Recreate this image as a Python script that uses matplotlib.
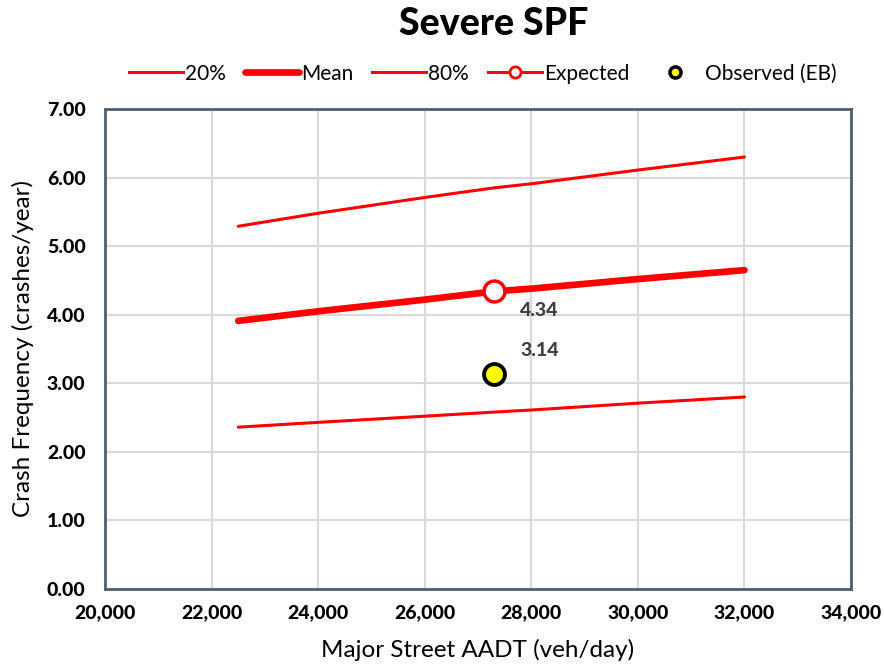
import matplotlib
matplotlib.use("Agg")
import matplotlib.pyplot as plt
from matplotlib.lines import Line2D
from matplotlib.ticker import FuncFormatter, MultipleLocator

plt.rcParams['font.family'] = ['Lato', 'DejaVu Sans']

aadt = [22500, 24000, 26000, 27300, 28000, 30000, 32000]
p20 = [2.36, 2.43, 2.52, 2.58, 2.61, 2.71, 2.80]
mean = [3.91, 4.05, 4.22, 4.34, 4.38, 4.52, 4.65]
p80 = [5.29, 5.48, 5.71, 5.85, 5.91, 6.11, 6.30]
exp_x = [27300]
exp_y = [4.34]
obs_x = [27300]
obs_y = [3.14]

fig = plt.figure(figsize=(8.84, 6.64), dpi=100)
ax = fig.add_axes([0.1188, 0.1130, 0.8439, 0.7228])

red = '#ff0000'
ax.plot(aadt, p20, color=red, lw=2.2, solid_capstyle='round', zorder=3)
ax.plot(aadt, mean, color=red, lw=4.8, solid_capstyle='round', zorder=3)
ax.plot(aadt, p80, color=red, lw=2.2, solid_capstyle='round', zorder=3)
ax.plot(exp_x, exp_y, 'o', ms=15, mfc='white', mec=red, mew=2.5, zorder=5)
ax.plot(obs_x, obs_y, 'o', ms=15, mfc='#ffff00', mec='black', mew=2.8, zorder=5)

ax.annotate(f"{exp_y[0]:.2f}", (exp_x[0], exp_y[0]), xytext=(19, -14),
            textcoords='offset points', ha='left', va='center',
            fontsize=14, fontweight='black', color='#404040')
ax.annotate(f"{obs_y[0]:.2f}", (obs_x[0], obs_y[0]), xytext=(19, 17),
            textcoords='offset points', ha='left', va='center',
            fontsize=14, fontweight='black', color='#404040')

ax.set_xlim(20000, 34000)
ax.set_ylim(0, 7)
ax.xaxis.set_major_locator(MultipleLocator(2000))
ax.yaxis.set_major_locator(MultipleLocator(1))
ax.xaxis.set_major_formatter(FuncFormatter(lambda v, p: f"{v:,.0f}"))
ax.yaxis.set_major_formatter(FuncFormatter(lambda v, p: f"{v:.2f}"))
ax.grid(True, color='#d9d9d9', lw=1.5, zorder=0)
ax.set_axisbelow(True)
ax.tick_params(axis='x', length=0, labelsize=14, pad=11)
ax.tick_params(axis='y', length=0, labelsize=14, pad=14)
for lab in ax.get_xticklabels() + ax.get_yticklabels():
    lab.set_fontweight('black')
for s in ax.spines.values():
    s.set_color('#4f5f6f')
    s.set_linewidth(2)

ax.set_xlabel('Major Street AADT (veh/day)', fontsize=17.5, labelpad=13)
ax.set_ylabel('Crash Frequency (crashes/year)', fontsize=17.5, labelpad=9)
fig.suptitle('Severe SPF', fontsize=27, fontweight='black', x=0.558, y=0.99)

handles = [
    Line2D([], [], color=red, lw=2.2),
    Line2D([], [], color=red, lw=4.8, solid_capstyle='round'),
    Line2D([], [], color=red, lw=2.2),
    Line2D([], [], color=red, lw=2.2, marker='o', ms=8, mfc='white', mec=red, mew=2),
    Line2D([], [], ls='none', marker='o', ms=8, mfc='#ffff00', mec='black', mew=2.5),
]
labels = ['20%', 'Mean', '80%', 'Expected', 'Observed (EB)']
fig.legend(handles, labels, loc='center', bbox_to_anchor=(0.546, 0.889), ncol=5,
           frameon=False, fontsize=15, handlelength=2.6, handletextpad=0.1,
           columnspacing=0.9)

fig.savefig('out.png', dpi=100)
